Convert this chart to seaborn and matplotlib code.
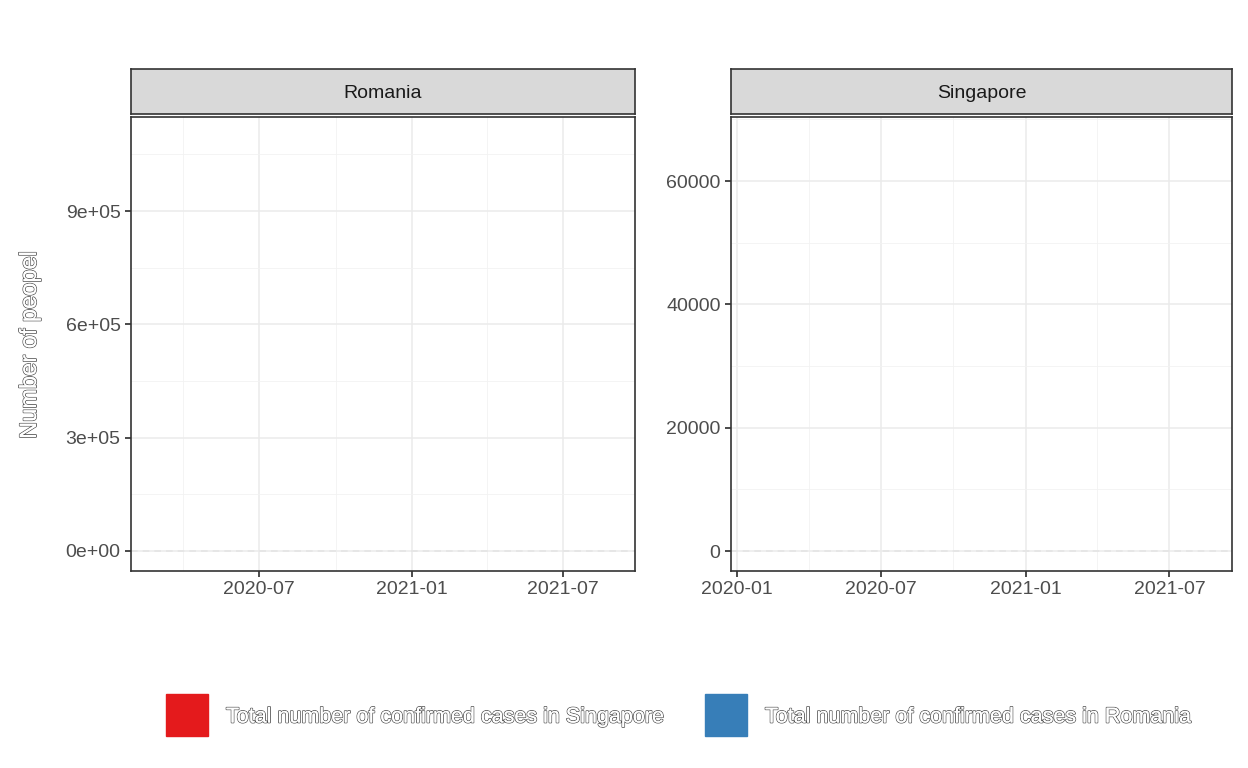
import matplotlib
matplotlib.use("Agg")
import matplotlib.pyplot as plt
import matplotlib.dates as mdates
import matplotlib.patheffects as pe
import seaborn as sns
import pandas as pd
import numpy as np

sns.set_theme(style="white")
plt.rcParams['font.family'] = ['Arial', 'Liberation Sans', 'DejaVu Sans']

panels = ["Romania", "Singapore"]
series_labels = ["Total number of confirmed cases in Singapore", "Total number of confirmed cases in Romania"]
series_colors = ["#E41A1C", "#377EB8"]
xlims = [("2020-01-29", "2021-09-26"), ("2019-12-25", "2021-09-18")]
ylims = [(-53000, 1149000), (-3240, 70400)]
yticks = [[0, 300000, 600000, 900000], [0, 20000, 40000, 60000]]
yticklabels = [["0e+00", "3e+05", "6e+05", "9e+05"], ["0", "20000", "40000", "60000"]]
xticks = [["2020-07-01", "2021-01-01", "2021-07-01"], ["2020-01-01", "2020-07-01", "2021-01-01", "2021-07-01"]]
dates = []
values = []

W, H = 1248, 768
fig = plt.figure(figsize=(W/100, H/100), dpi=100)
boxes = [(131, 635), (731, 1232)]
for i, (l, r) in enumerate(boxes):
    ax = fig.add_axes([l/W, 1-571/H, (r-l)/W, (571-117)/H])
    df = pd.DataFrame({"date": pd.to_datetime(dates), "value": values})
    if len(df):
        sns.lineplot(data=df, x="date", y="value", ax=ax)
    ax.axhline(0, color="#e5e5e5", ls=(0, (4, 3)), lw=1.2)
    ax.set_yticks(yticks[i]); ax.set_yticklabels(yticklabels[i])
    ax.set_xticks([mdates.date2num(pd.Timestamp(d)) for d in xticks[i]])
    ax.xaxis.set_major_formatter(mdates.DateFormatter("%Y-%m"))
    ax.xaxis.set_minor_locator(mdates.MonthLocator(bymonth=[1, 4, 7, 10]))
    yt = yticks[i]; step = yt[1]-yt[0]
    ax.set_yticks([v + step/2 for v in yt], minor=True)
    x0, x1 = [mdates.date2num(pd.Timestamp(d)) for d in xlims[i]]
    ax.set_xlim(x0, x1)
    ax.set_ylim(*ylims[i])
    ax.grid(True, which="major", color="#ebebeb", lw=1.1)
    ax.grid(True, which="minor", color="#f2f2f2", lw=0.6)
    ax.tick_params(which="major", length=4, color="#333333", labelsize=14, labelcolor="#4d4d4d", bottom=True, left=True)
    ax.tick_params(which="minor", length=0)
    for s in ax.spines.values():
        s.set_color("#333333"); s.set_linewidth(1.2)
    ax.set_xlabel(""); ax.set_ylabel("")
    sax = fig.add_axes([l/W, 1-114/H, (r-l)/W, 45/H])
    sax.set_facecolor("#d9d9d9"); sax.set_xticks([]); sax.set_yticks([])
    for s in sax.spines.values():
        s.set_color("#333333"); s.set_linewidth(1.2)
    sax.text(0.5, 0.45, panels[i], ha="center", va="center", fontsize=14, color="#1a1a1a", transform=sax.transAxes)

outline = [pe.withStroke(linewidth=1.2, foreground="#555555"), pe.Normal()]
fig.text(30/W, 1-345/H, "Number of peopel", rotation=90, ha="center", va="center", fontsize=17,
         color="white", path_effects=outline)
for (x, tx), lab, c in zip([(166, 226), (705, 765)], series_labels, series_colors):
    fig.patches.append(plt.Rectangle((x/W, 1-736/H), 42/W, 42/H, transform=fig.transFigure, color=c))
    fig.text(tx/W, 1-717/H, lab, ha="left", va="center", fontsize=15.5, color="white", path_effects=outline)

fig.savefig("out.png", dpi=100, facecolor="white")
